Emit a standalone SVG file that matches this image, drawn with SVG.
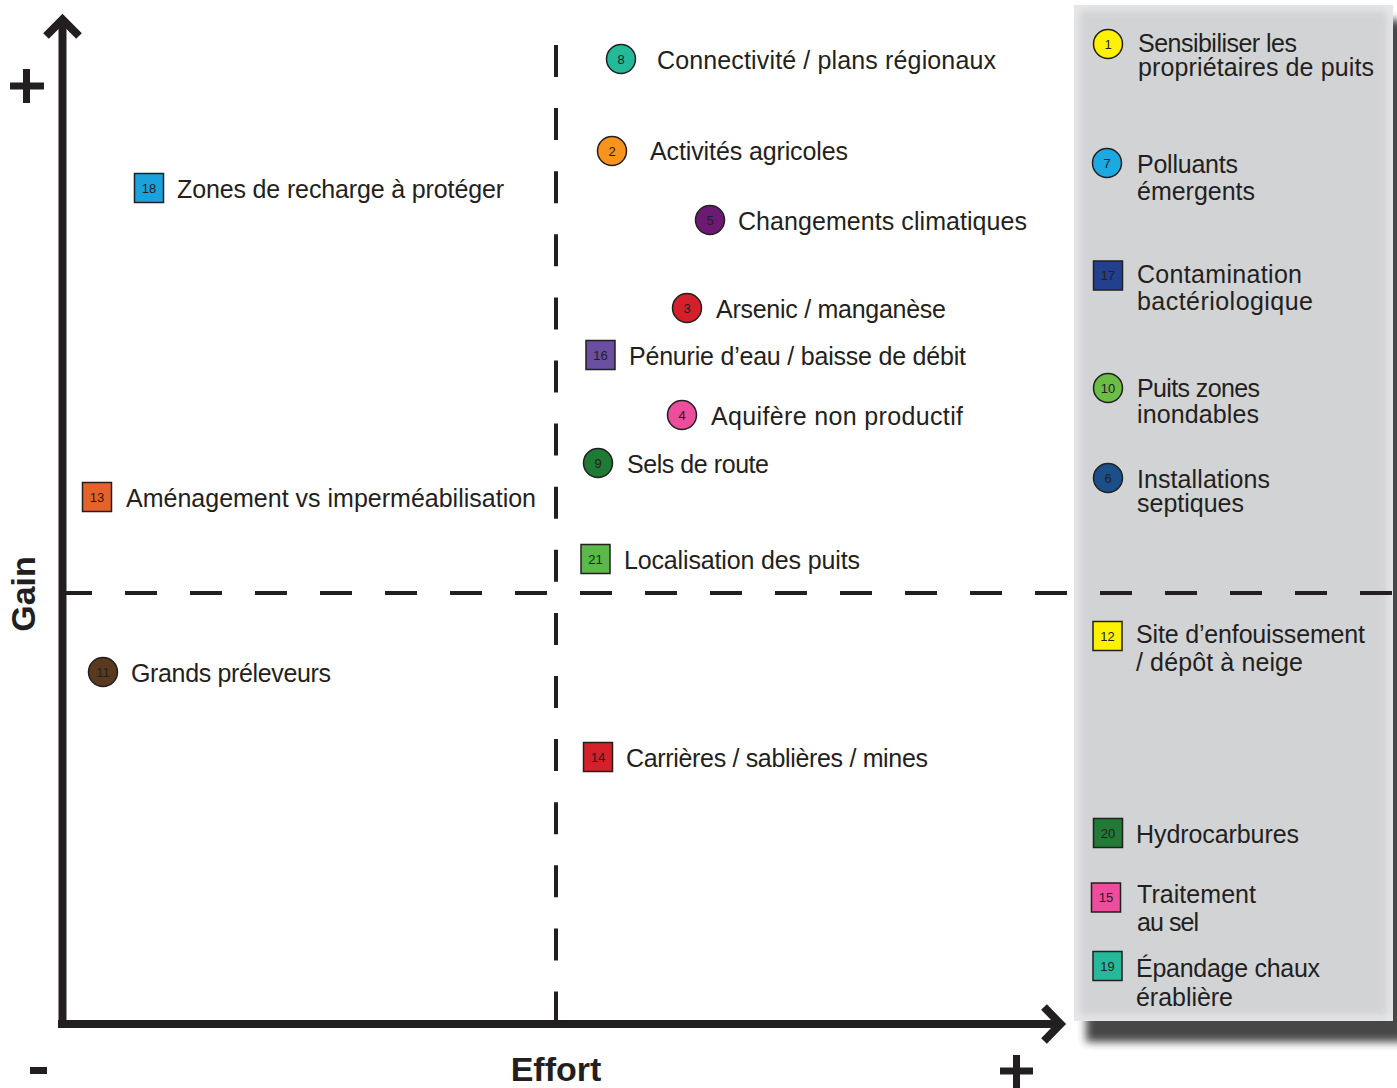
<svg xmlns="http://www.w3.org/2000/svg" width="1397" height="1088" viewBox="0 0 1397 1088">
<defs>
<style>
.lbl{font-family:"Liberation Sans",Arial,sans-serif;font-size:25px;fill:#231f20}
.num{font-family:"Liberation Sans",Arial,sans-serif;font-size:13px;fill:#231f20;text-anchor:middle}
.ax{font-family:"Liberation Sans",Arial,sans-serif;font-size:34px;font-weight:bold;fill:#231f20;text-anchor:middle}
.mk{stroke:#231f20;stroke-width:1.5}
.axis{fill:none;stroke:#231f20;stroke-width:8}
.dash{fill:none;stroke:#231f20;stroke-width:4}
.sign{fill:none;stroke:#231f20;stroke-width:7}
</style>
<filter id="shadow" x="-10%" y="-10%" width="120%" height="120%">
<feGaussianBlur stdDeviation="4"/>
</filter>
<filter id="glow" x="-5%" y="-5%" width="110%" height="110%">
<feGaussianBlur stdDeviation="5"/>
</filter>
<clipPath id="panelClip"><rect x="1074" y="5" width="319" height="1016"/></clipPath>
</defs>
<rect width="1397" height="1088" fill="#ffffff"/>

<g id="panel">
<rect x="1086" y="20" width="320" height="1022" fill="#2e2e2e" opacity="0.88" filter="url(#shadow)"/>
<rect x="1074" y="5" width="319" height="1016" fill="#d2d3d5"/>
<g clip-path="url(#panelClip)">
<rect x="1074" y="5" width="319" height="1016" fill="none" stroke="#eeeeef" stroke-width="8" filter="url(#glow)"/>
</g>
</g>

<g id="axes">
<line class="dash" x1="60" y1="593" x2="1393" y2="593" stroke-dasharray="32 33"/>
<line class="dash" x1="556" y1="45" x2="556" y2="1022" stroke-dasharray="32 31.1"/>
<line class="axis" x1="62.5" y1="24" x2="62.5" y2="1028"/>
<polyline class="axis" points="46,36 62.5,19.5 79,36"/>
<line class="axis" x1="58" y1="1024" x2="1058" y2="1024"/>
<polyline class="axis" points="1044,1007 1060.5,1024 1044,1041"/>
<path class="sign" d="M10,86 H44 M26.5,69 V103"/>
<path class="sign" d="M30,1070.5 H47" stroke-width="5"/>
<path class="sign" d="M1000,1071 H1033 M1016.5,1055 V1088"/>
<text class="ax" transform="translate(35,594) rotate(-90)" font-size="33">Gain</text>
<text class="ax" x="556" y="1081">Effort</text>
</g>

<g id="n18"><rect class="mk" x="134.5" y="173.5" width="29" height="29" fill="#1ba1dc"/><text class="num" x="149" y="192.5">18</text><text class="lbl" x="177" y="198" textLength="327">Zones de recharge à protéger</text></g>
<g id="n13"><rect class="mk" x="82.5" y="482.5" width="29" height="29" fill="#e5632a"/><text class="num" x="97" y="501.5">13</text><text class="lbl" x="126" y="507" textLength="410">Aménagement vs imperméabilisation</text></g>
<g id="n11"><circle class="mk" cx="103" cy="672" r="14.5" fill="#5a3a1e"/><text class="num" x="103" y="676.5">11</text><text class="lbl" x="131" y="682" textLength="200">Grands préleveurs</text></g>

<g id="n8"><circle class="mk" cx="621" cy="59" r="14.5" fill="#25b99a"/><text class="num" x="621" y="63.5">8</text><text class="lbl" x="657" y="69" textLength="339">Connectivité / plans régionaux</text></g>
<g id="n2"><circle class="mk" cx="612" cy="151" r="14.5" fill="#f7941d"/><text class="num" x="612" y="155.5">2</text><text class="lbl" x="650" y="160" textLength="198">Activités agricoles</text></g>
<g id="n5"><circle class="mk" cx="710" cy="220" r="14.5" fill="#6d1a74"/><text class="num" x="710" y="224.5">5</text><text class="lbl" x="738" y="230" textLength="289">Changements climatiques</text></g>
<g id="n3"><circle class="mk" cx="687" cy="308" r="14.5" fill="#d4202a"/><text class="num" x="687" y="312.5">3</text><text class="lbl" x="716" y="318" textLength="230">Arsenic / manganèse</text></g>
<g id="n16"><rect class="mk" x="586" y="340.5" width="29" height="29" fill="#6a4ea0"/><text class="num" x="600.5" y="359.5">16</text><text class="lbl" x="629" y="365" textLength="337">Pénurie d’eau / baisse de débit</text></g>
<g id="n4"><circle class="mk" cx="682" cy="415" r="14.5" fill="#ec4d9c"/><text class="num" x="682" y="419.5">4</text><text class="lbl" x="711" y="425" textLength="252">Aquifère non productif</text></g>
<g id="n9"><circle class="mk" cx="598" cy="463" r="14.5" fill="#1e7a34"/><text class="num" x="598" y="467.5">9</text><text class="lbl" x="627" y="473" textLength="142">Sels de route</text></g>
<g id="n21"><rect class="mk" x="581" y="544.5" width="29" height="29" fill="#5db84a"/><text class="num" x="595.5" y="563.5">21</text><text class="lbl" x="624" y="569" textLength="236">Localisation des puits</text></g>
<g id="n14"><rect class="mk" x="583.5" y="742.5" width="29" height="29" fill="#d4202a"/><text class="num" x="598" y="761.5">14</text><text class="lbl" x="626" y="767" textLength="302">Carrières / sablières / mines</text></g>

<g id="n1"><circle class="mk" cx="1108" cy="44" r="14.5" fill="#fff200"/><text class="num" x="1108" y="48.5">1</text><text class="lbl" x="1138" y="52" textLength="159">Sensibiliser les</text><text class="lbl" x="1138" y="76" textLength="236">propriétaires de puits</text></g>
<g id="n7"><circle class="mk" cx="1107" cy="163" r="14.5" fill="#1ba9e1"/><text class="num" x="1107" y="167.5">7</text><text class="lbl" x="1137" y="173" textLength="101">Polluants</text><text class="lbl" x="1137" y="200" textLength="118">émergents</text></g>
<g id="n17"><rect class="mk" x="1093.5" y="261" width="29" height="29" fill="#23408e"/><text class="num" x="1108" y="280">17</text><text class="lbl" x="1137" y="283" textLength="165">Contamination</text><text class="lbl" x="1137" y="310" textLength="176">bactériologique</text></g>
<g id="n10"><circle class="mk" cx="1108" cy="388" r="14.5" fill="#6abd45"/><text class="num" x="1108" y="392.5">10</text><text class="lbl" x="1137" y="397" textLength="123">Puits zones</text><text class="lbl" x="1137" y="423" textLength="122">inondables</text></g>
<g id="n6"><circle class="mk" cx="1108" cy="478" r="14.5" fill="#1b4f8a"/><text class="num" x="1108" y="482.5">6</text><text class="lbl" x="1137" y="488" textLength="133">Installations</text><text class="lbl" x="1137" y="512" textLength="107">septiques</text></g>
<g id="n12"><rect class="mk" x="1093" y="621.5" width="29" height="29" fill="#fff200"/><text class="num" x="1107.5" y="640.5">12</text><text class="lbl" x="1136" y="643" textLength="229">Site d’enfouissement</text><text class="lbl" x="1136" y="671" textLength="167">/ dépôt à neige</text></g>
<g id="n20"><rect class="mk" x="1093.5" y="818.5" width="29" height="29" fill="#237a37"/><text class="num" x="1108" y="837.5">20</text><text class="lbl" x="1136" y="843" textLength="163">Hydrocarbures</text></g>
<g id="n15"><rect class="mk" x="1091.5" y="883" width="29" height="29" fill="#ec4d9c"/><text class="num" x="1106" y="902">15</text><text class="lbl" x="1137" y="903" textLength="119">Traitement</text><text class="lbl" x="1137" y="931" textLength="62">au sel</text></g>
<g id="n19"><rect class="mk" x="1093" y="951.5" width="29" height="29" fill="#25b99a"/><text class="num" x="1107.5" y="970.5">19</text><text class="lbl" x="1136" y="977" textLength="184">Épandage chaux</text><text class="lbl" x="1136" y="1006" textLength="97">érablière</text></g>
</svg>
